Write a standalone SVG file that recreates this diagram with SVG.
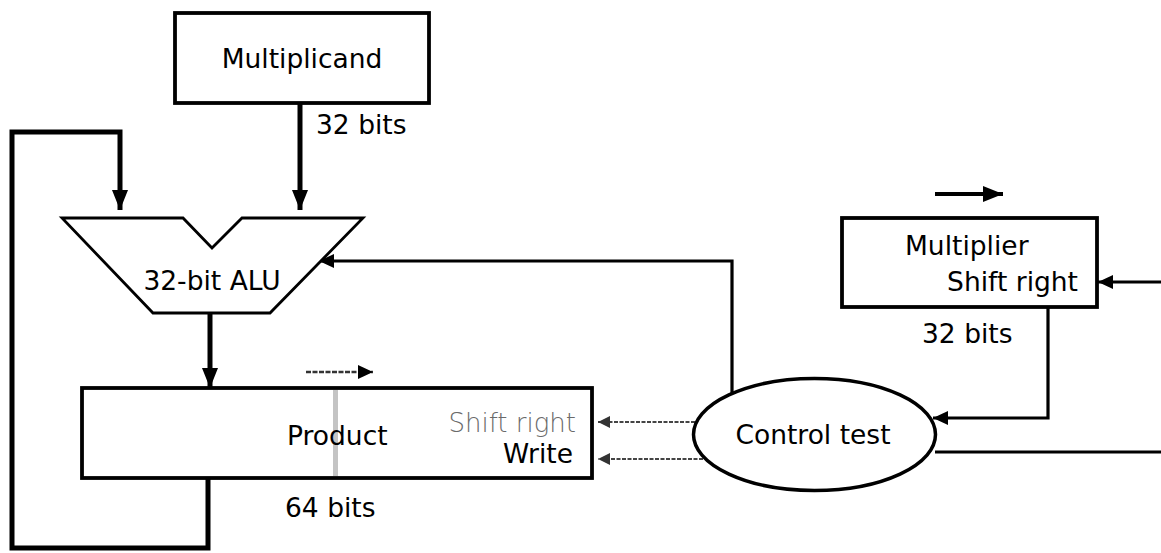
<svg xmlns="http://www.w3.org/2000/svg" width="1161" height="553" viewBox="0 0 1161 553">
  <style>
    .box { fill: #fff; stroke: #000; stroke-width: 3.8; }
    .lbl { font-family: "DejaVu Sans", "Liberation Sans", sans-serif; font-size: 26.5px; fill: #000; }
    .dim { font-family: "DejaVu Sans", "Liberation Sans", sans-serif; font-size: 26px; font-weight: 200; fill: #6a6a6a; }
    .bus { fill: none; stroke: #000; stroke-width: 5; stroke-linejoin: miter; }
    .ctl { fill: none; stroke: #000; stroke-width: 3.2; stroke-linejoin: miter; }
    .sig { fill: none; stroke: #444; stroke-width: 2; stroke-dasharray: 4 1.5; }
  </style>
  <defs>
    <marker id="busHead" markerUnits="userSpaceOnUse" markerWidth="20" markerHeight="16" refX="20" refY="8" orient="auto">
      <path d="M0,0 L20,8 L0,16 z" fill="#000"/>
    </marker>
    <marker id="ctlHead" markerUnits="userSpaceOnUse" markerWidth="15" markerHeight="14" refX="15" refY="7" orient="auto">
      <path d="M0,0 L15,7 L0,14 z" fill="#000"/>
    </marker>
    <marker id="sigHead" markerUnits="userSpaceOnUse" markerWidth="12" markerHeight="12" refX="12" refY="6" orient="auto">
      <path d="M0,0 L12,6 L0,12 z" fill="#333"/>
    </marker>
  </defs>

  <!-- connectors -->
  <g id="connectors">
    <path class="bus" d="M300,103 V210" marker-end="url(#busHead)"/>
    <path class="bus" d="M208,478 V548 H12 V132 H120 V210" marker-end="url(#busHead)"/>
    <path class="bus" d="M210,313 V388" marker-end="url(#busHead)"/>
    <path class="ctl" d="M732,394 V261 H319" marker-end="url(#ctlHead)"/>
    <path class="ctl" d="M1048,307 V418 H933" marker-end="url(#ctlHead)"/>
    <path class="ctl" d="M935,452 H1161"/>
    <path class="ctl" d="M1161,282 H1098" marker-end="url(#ctlHead)"/>
    <path class="sig" d="M695,422 H598" marker-end="url(#sigHead)"/>
    <path class="sig" d="M703,459 H598" marker-end="url(#sigHead)"/>
  </g>

  <!-- multiplicand register -->
  <g id="multiplicand">
    <rect class="box" x="175" y="13" width="254" height="90"/>
    <text class="lbl" x="302" y="68" text-anchor="middle">Multiplicand</text>
    <text class="lbl" x="316" y="134">32 bits</text>
  </g>

  <!-- adder -->
  <g id="alu">
    <polygon points="62,218 183,218 212,248 242,218 363,218 270,313 153,313" fill="#fff" stroke="#000" stroke-width="2.8" stroke-linejoin="miter"/>
    <text class="lbl" x="212" y="290" text-anchor="middle">32-bit ALU</text>
  </g>

  <!-- product register -->
  <g id="product">
    <rect class="box" x="82" y="388" width="510" height="90"/>
    <rect x="333" y="390" width="5" height="86" fill="#c4c4c4"/>
    <text class="lbl" x="287" y="445">Product</text>
    <text class="dim" x="576" y="432" text-anchor="end">Shift right</text>
    <text class="lbl" x="573" y="463" text-anchor="end">Write</text>
    <text class="lbl" x="285" y="517">64 bits</text>
    <path d="M306,372 H373" fill="none" stroke="#333" stroke-width="2.5" stroke-dasharray="5 1.5" marker-end="url(#ctlHead)"/>
  </g>

  <!-- multiplier register -->
  <g id="multiplier">
    <rect class="box" x="842" y="218" width="255" height="89"/>
    <text class="lbl" x="905" y="255">Multiplier</text>
    <text class="lbl" x="1078" y="291" text-anchor="end">Shift right</text>
    <text class="lbl" x="922" y="343">32 bits</text>
    <path d="M935,194 H1003" fill="none" stroke="#000" stroke-width="4" marker-end="url(#busHead)"/>
  </g>

  <!-- control unit -->
  <g id="control">
    <ellipse cx="814.5" cy="434.5" rx="121" ry="56" fill="#fff" stroke="#000" stroke-width="3.5"/>
    <text class="lbl" x="813" y="444" text-anchor="middle">Control test</text>
  </g>
</svg>
